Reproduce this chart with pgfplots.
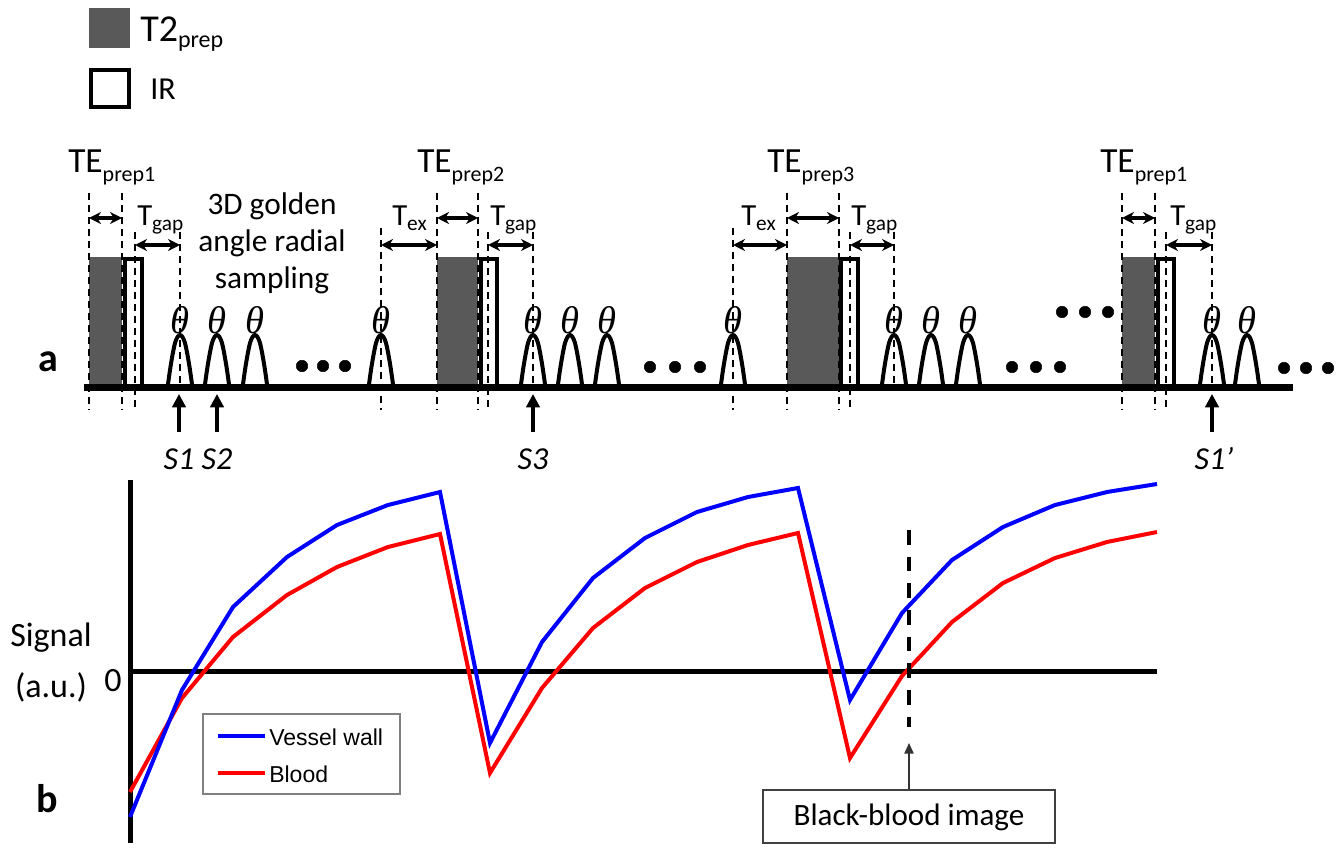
\documentclass[border=0pt]{standalone}
\usepackage{pgfplots}
\pgfplotsset{compat=1.18}
\usepackage{pgfplotstable}
\usetikzlibrary{arrows.meta}
\usepackage{fontspec}
\setmainfont{Carlito}
\newfontfamily\arial{Liberation Sans}
\newfontfamily\thetafont{Liberation Serif}
\definecolor{t2gray}{RGB}{89,89,89}
\definecolor{vblue}{RGB}{0,0,255}
\definecolor{bred}{RGB}{255,0,0}

% pulse (RF) shape: offset from centre, height in px
\pgfplotstableread{
dx h
-12.5 0
-10 18
-7.5 33
-5 45
-2.5 51
0 53
2.5 51
5 45
7.5 33
10 18
12.5 0
}\pulse

% signal curves (x, y in picture units, y downwards)
\pgfplotstableread{
x wall blood
130 817 792
182 690 698
233 607 637
287 557 595
337 525 567
388 505 547
440 492 534
490 743 773
542 642 688
593 578 628
645 538 588
697 512 562
748 497 545
798 488 533
850 700 758
902 613 676
952 560 622
1003 527 583
1055 505 558
1107 492 542
1157 484 532
}\signal

\newcommand\TEsub[1]{\raisebox{-6.5pt}{\fontsize{16.5}{16.5}\selectfont #1}}
\newcommand\Tsub[1]{\raisebox{-3.5pt}{\fontsize{16}{16}\selectfont #1}}

\begin{document}
\begin{tikzpicture}
\begin{axis}[width=1006.5pt,height=636pt,scale only axis,
  xmin=0,xmax=1342,ymin=0,ymax=848,y dir=reverse,hide axis,clip=false]
\path (rel axis cs:0,0) rectangle (rel axis cs:1,1);

% ---- top legend
\addplot[fill=t2gray,draw=none] coordinates {(89,8) (130,8) (130,48) (89,48)} --cycle;
\addplot[draw=black,line width=3pt,fill=white] coordinates {(91,70) (129,70) (129,107) (91,107)} --cycle;
\node[anchor=base west,inner sep=0,font=\fontsize{28.5}{28.5}\selectfont] at (140,42) {T2\raisebox{-4.5pt}{\fontsize{18}{18}\selectfont prep}};
\node[anchor=base west,inner sep=0,font=\fontsize{24}{24}\selectfont] at (150,100) {IR};

% ---- T2prep blocks
\addplot[fill=t2gray,draw=none] coordinates {(89,257) (122,257) (122,388) (89,388)} --cycle;
\addplot[fill=t2gray,draw=none] coordinates {(437,257) (478,257) (478,388) (437,388)} --cycle;
\addplot[fill=t2gray,draw=none] coordinates {(787,257) (839,257) (839,388) (787,388)} --cycle;
\addplot[fill=t2gray,draw=none] coordinates {(1122,257) (1155,257) (1155,388) (1122,388)} --cycle;
% ---- IR boxes
\addplot[draw=black,fill=white,line width=2.8pt] coordinates {(124.8,258.8) (142.2,258.8) (142.2,388) (124.8,388)} --cycle;
\addplot[draw=black,fill=white,line width=2.8pt] coordinates {(480.8,258.8) (497.2,258.8) (497.2,388) (480.8,388)} --cycle;
\addplot[draw=black,fill=white,line width=2.8pt] coordinates {(840.8,258.8) (858.2,258.8) (858.2,388) (840.8,388)} --cycle;
\addplot[draw=black,fill=white,line width=2.8pt] coordinates {(1157.8,258.8) (1174.2,258.8) (1174.2,388) (1157.8,388)} --cycle;

% ---- dashed guide lines
\pgfplotsset{guide/.style={black,line width=1.5pt,dash pattern=on 5.5pt off 3.5pt}}
\pgfplotsinvokeforeach{89,122,437,478,787,839,1122,1155}{
  \addplot[guide] coordinates {(#1,193) (#1,410)};}
\pgfplotsinvokeforeach{135,488,850,1166}{
  \addplot[guide] coordinates {(#1,232) (#1,410)};}
\pgfplotsinvokeforeach{180,533,894,1212}{
  \addplot[guide] coordinates {(#1,232) (#1,388)};}
\pgfplotsinvokeforeach{381,733}{
  \addplot[guide] coordinates {(#1,228) (#1,410)};}

% ---- timing arrows
\pgfplotsset{tarrow/.style={black,line width=2.7pt,{Stealth[length=9pt,width=9pt]}-{Stealth[length=9pt,width=9pt]}}}
\addplot[tarrow] coordinates {(89,218) (122,218)};
\addplot[tarrow] coordinates {(437,218) (478,218)};
\addplot[tarrow] coordinates {(787,218) (839,218)};
\addplot[tarrow] coordinates {(1122,218) (1155,218)};
\addplot[tarrow] coordinates {(135,245) (180,245)};
\addplot[tarrow] coordinates {(488,245) (533,245)};
\addplot[tarrow] coordinates {(850,245) (894,245)};
\addplot[tarrow] coordinates {(1166,245) (1212,245)};
\addplot[tarrow] coordinates {(381,245) (437,245)};
\addplot[tarrow] coordinates {(733,245) (787,245)};

% ---- RF pulses
\pgfplotsinvokeforeach{180,217,255,381,533,570,607,733,894,931,968,1212,1247}{
  \addplot[black,line width=3pt,smooth] table[x expr=\thisrow{dx}+#1,y expr=388-\thisrow{h}]{\pulse};
  \node[font=\thetafont\itshape\fontsize{29}{29}\selectfont] at (#1,320) {θ};}

% ---- baseline
\addplot[black,line width=5.25pt] coordinates {(84,388) (1293,388)};

% ---- ellipsis dots
\pgfplotsset{dots/.style={only marks,mark=*,mark size=4.3pt,black}}
\addplot[dots] coordinates {(302,366) (323,366) (345,366)};
\addplot[dots] coordinates {(650,367) (675,367) (700,367)};
\addplot[dots] coordinates {(1012,367) (1036,367) (1060,367)};
\addplot[dots] coordinates {(1062,312) (1085,312) (1108,312)};
\addplot[dots] coordinates {(1284,368) (1306,368) (1328,368)};

% ---- S arrows
\pgfplotsset{sarrow/.style={black,line width=2.4pt,-{Triangle[length=10pt,width=10pt]}}}
\addplot[sarrow] coordinates {(179,432) (179,394)};
\addplot[sarrow] coordinates {(217,432) (217,394)};
\addplot[sarrow] coordinates {(533,432) (533,394)};
\addplot[sarrow] coordinates {(1212,432) (1212,394)};
\node[anchor=base,inner sep=0,font=\fontsize{24}{24}\selectfont\itshape] at (179,469) {S1};
\node[anchor=base,inner sep=0,font=\fontsize{24}{24}\selectfont\itshape] at (217,469) {S2};
\node[anchor=base,inner sep=0,font=\fontsize{24}{24}\selectfont\itshape] at (533,469) {S3};
\node[anchor=base,inner sep=0,font=\fontsize{24}{24}\selectfont\itshape] at (1214,469) {S1’};

% ---- labels of sequence
\node[anchor=base west,inner sep=0,font=\fontsize{26.5}{26.5}\selectfont] at (68,173) {TE\TEsub{prep1}};
\node[anchor=base west,inner sep=0,font=\fontsize{26.5}{26.5}\selectfont] at (417,173) {TE\TEsub{prep2}};
\node[anchor=base west,inner sep=0,font=\fontsize{26.5}{26.5}\selectfont] at (767,173) {TE\TEsub{prep3}};
\node[anchor=base west,inner sep=0,font=\fontsize{26.5}{26.5}\selectfont] at (1100,173) {TE\TEsub{prep1}};
\node[anchor=base west,inner sep=0,font=\fontsize{23}{23}\selectfont] at (137,226) {T\Tsub{gap}};
\node[anchor=base west,inner sep=0,font=\fontsize{23}{23}\selectfont] at (490,226) {T\Tsub{gap}};
\node[anchor=base west,inner sep=0,font=\fontsize{23}{23}\selectfont] at (851,226) {T\Tsub{gap}};
\node[anchor=base west,inner sep=0,font=\fontsize{23}{23}\selectfont] at (1170,226) {T\Tsub{gap}};
\node[anchor=base west,inner sep=0,font=\fontsize{23}{23}\selectfont] at (392,226) {T\Tsub{ex}};
\node[anchor=base west,inner sep=0,font=\fontsize{23}{23}\selectfont] at (741,226) {T\Tsub{ex}};
\node[anchor=base,inner sep=0,font=\fontsize{23.5}{23.5}\selectfont] at (272,215) {3D golden};
\node[anchor=base,inner sep=0,font=\fontsize{23.5}{23.5}\selectfont] at (272,252) {angle radial};
\node[anchor=base,inner sep=0,font=\fontsize{23.5}{23.5}\selectfont] at (272,289) {sampling};
\node[inner sep=0,font=\fontsize{30}{30}\selectfont\bfseries] at (48,362) {a};

% ---- signal plot
\addplot[black,line width=3.75pt] coordinates {(130,480) (130,843)};
\addplot[black,line width=3.75pt] coordinates {(130,671) (1157,671)};
\addplot[bred,line width=3pt] table[x=x,y=blood]{\signal};
\addplot[vblue,line width=3pt] table[x=x,y=wall]{\signal};
\node[inner sep=0,font=\fontsize{25.5}{25.5}\selectfont] at (51,638) {Signal};
\node[inner sep=0,font=\fontsize{25.5}{25.5}\selectfont] at (51,687) {(a.u.)};
\node[inner sep=0,font=\fontsize{25.5}{25.5}\selectfont] at (113,681) {0};
\node[inner sep=0,font=\fontsize{30}{30}\selectfont\bfseries] at (47,799) {b};

% legend
\addplot[draw=gray,line width=1.1pt,fill=white] coordinates {(203,714) (400,714) (400,794) (203,794)} --cycle;
\addplot[vblue,line width=3pt] coordinates {(218,736) (265,736)};
\addplot[bred,line width=3pt] coordinates {(218,773) (265,773)};
\node[anchor=west,inner sep=0,font=\arial\fontsize{17.25}{17.25}\selectfont] at (269,737) {Vessel wall};
\node[anchor=west,inner sep=0,font=\arial\fontsize{17.25}{17.25}\selectfont] at (269,774) {Blood};

% black-blood marker
\addplot[black,line width=3pt,dash pattern=on 11pt off 9pt] coordinates {(909,530) (909,727)};
\addplot[black!80,line width=1.1pt,-{Triangle[length=8pt,width=7pt]}] coordinates {(909,790) (909,743)};
\addplot[black!75,line width=1.1pt,fill=white] coordinates {(763,790) (1055,790) (1055,843) (763,843)} --cycle;
\node[inner sep=0,font=\fontsize{23.3}{23.3}\selectfont] at (909,817) {Black-blood image};
\end{axis}
\end{tikzpicture}
\end{document}
